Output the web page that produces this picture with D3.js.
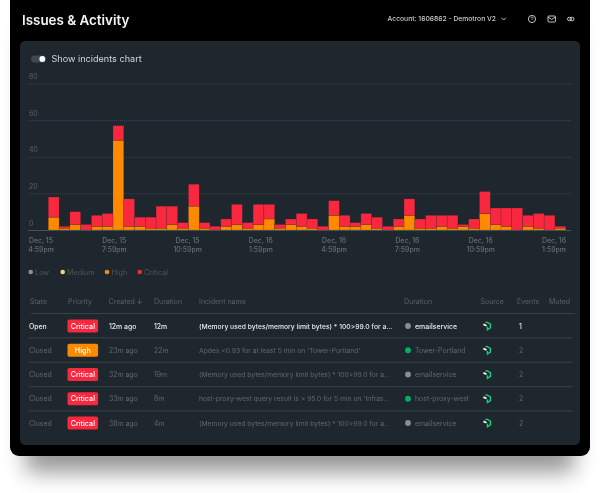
<!DOCTYPE html>
<html>
<head>
<meta charset="utf-8">
<script src="https://cdn.jsdelivr.net/npm/d3@7"></script>
<style>
  html, body { margin: 0; padding: 0; background: #fff; }
  svg { display: block; font-family: Inter, sans-serif; filter: blur(0.3px); }
</style>
</head>
<body>
<div id="chart"></div>
<script>
// chart data
const highCounts = [7, 1, 3, 0, 2, 2, 49, 2, 2, 1, 1, 3, 1, 13, 1, 0, 2, 3, 1, 3, 6, 1, 3, 2, 1, 0, 8, 2, 2, 3, 1, 0, 2, 8, 1, 1, 2, 1, 2, 1, 9, 3, 2, 0, 2, 1, 0, 1];
const criticalCounts = [11, 1, 7, 3, 6, 7, 8, 15, 5, 6, 12, 10, 3, 12, 3, 2, 4, 11, 3, 11, 8, 2, 3, 7, 5, 2, 8, 6, 2, 6, 6, 2, 4, 9, 5, 7, 6, 7, 1, 5, 12, 9, 10, 12, 6, 8, 8, 1];
const yTicks = [0, 20, 40, 60, 80];
const xDays = ['Dec, 15', 'Dec, 15', 'Dec, 15', 'Dec, 16', 'Dec, 16', 'Dec, 16', 'Dec, 16', 'Dec, 16'];
const xTimes = ['4:59pm', '7:59pm', '10:59pm', '1:59pm', '4:59pm', '7:59pm', '10:59pm', '1:59pm'];
const legendNames = ['Low', 'Medium', 'High', 'Critical'];
const legendColors = ['#8b9095', '#f7d774', '#ff8a00', '#f9283f'];

const states = ['Open', 'Closed', 'Closed', 'Closed', 'Closed'];
const priorities = ['Critical', 'High', 'Critical', 'Critical', 'Critical'];
const createdAgo = ['12m ago', '23m ago', '32m ago', '33m ago', '38m ago'];
const durations = ['12m', '22m', '19m', '8m', '4m'];
const incidentNames = [
  '(Memory used bytes/memory limit bytes) * 100>99.0 for a...',
  "Apdex <0.93 for at least 5 min on 'Tower-Portland'",
  '(Memory used bytes/memory limit bytes) * 100>99.0 for a...',
  "host-proxy-west query result is > 95.0 for 5 min on 'Infras...",
  '(Memory used bytes/memory limit bytes) * 100>99.0 for a...'
];
const services = ['emailservice', 'Tower-Portland', 'emailservice', 'host-proxy-west', 'emailservice'];
const serviceColors = ['#8b8f93', '#00b066', '#8b8f93', '#00b066', '#8b8f93'];
const eventCounts = [1, 2, 2, 2, 2];
const headers = ['State', 'Priority', 'Created ↓', 'Duration', 'Incident name', 'Duration', 'Source', 'Events', 'Muted'];
const headerX = [30, 68, 108.5, 154, 199, 404, 480.5, 517, 549];

const width = 600, height = 493;
const svg = d3.select('#chart').append('svg')
  .attr('width', width)
  .attr('height', height)
  .attr('viewBox', [0, 0, width, height]);

const defs = svg.append('defs');
defs.append('filter').attr('id', 'cardShadow')
  .attr('x', '-10%').attr('y', '-10%').attr('width', '120%').attr('height', '125%')
  .append('feGaussianBlur').attr('stdDeviation', 11);

// card + panel
svg.append('rect')
  .attr('x', 26).attr('y', 30).attr('width', 548).attr('height', 442)
  .attr('fill', '#000').attr('opacity', 0.42)
  .attr('filter', 'url(#cardShadow)');
svg.append('rect')
  .attr('x', 10).attr('y', -10).attr('width', 580).attr('height', 466)
  .attr('rx', 9).attr('fill', '#000');
svg.append('rect')
  .attr('x', 20).attr('y', 41).attr('width', 560).attr('height', 404)
  .attr('rx', 5).attr('fill', '#1e262e');

// page header
svg.append('text')
  .attr('x', 22).attr('y', 25)
  .attr('fill', '#f4f5f6').attr('font-size', 13.4).attr('font-weight', 600)
  .text('Issues & Activity');
svg.append('text')
  .attr('x', 387.5).attr('y', 21.4)
  .attr('fill', '#c9cccf').attr('font-size', 6.75).attr('font-weight', 500)
  .text('Account: 1606862 - Demotron V2');

const icons = svg.append('g').attr('fill', 'none').attr('stroke', '#d5d7d9').attr('stroke-width', 0.9);
icons.append('path').attr('d', 'M501.5 17.8l2.2 2.2 2.2-2.2');
icons.append('circle').attr('cx', 532).attr('cy', 19).attr('r', 3.6);
icons.append('path').attr('d', 'M530.9 18.1a1.1 1.1 0 1 1 1.5 1l-.4 .5v.4').attr('stroke-width', 0.7);
icons.append('rect').attr('x', 548).attr('y', 16).attr('width', 7.4).attr('height', 6).attr('rx', 0.7);
icons.append('path').attr('d', 'M548 17l3.7 2.4 3.7-2.4');
icons.append('rect').attr('x', 567.5).attr('y', 17.3).attr('width', 4).attr('height', 3.4).attr('rx', 1.7);
icons.append('rect').attr('x', 570).attr('y', 17.3).attr('width', 4).attr('height', 3.4).attr('rx', 1.7);

// toggle
svg.append('rect').attr('x', 31).attr('y', 55.5).attr('width', 15).attr('height', 7).attr('rx', 3.5).attr('fill', '#41484f');
svg.append('circle').attr('cx', 42.3).attr('cy', 59).attr('r', 2.9).attr('fill', '#fff');
svg.append('text')
  .attr('x', 51.5).attr('y', 62.3)
  .attr('fill', '#d3d6d8').attr('font-size', 9.1)
  .text('Show incidents chart');

// bars
const y = d3.scaleLinear().domain([0, 80]).range([230, 83.5]);
const x = d3.scaleBand().domain(d3.range(highCounts.length)).range([48.3, 565.7]);
const xLabels = d3.scalePoint().domain(d3.range(xDays.length)).range([41, 554]);

const yAxis = svg.append('g')
  .attr('transform', 'translate(28,0)')
  .call(d3.axisLeft(y).tickValues(yTicks).tickSize(-543));
yAxis.select('.domain').remove();
yAxis.selectAll('.tick line')
  .attr('stroke', d => d === 0 ? '#4a5259' : '#4b535a')
  .attr('stroke-width', d => d === 0 ? 1 : 0.7)
  .attr('stroke-dasharray', d => d === 0 ? null : '1 1');
yAxis.selectAll('.tick text')
  .attr('x', 1).attr('y', -4.9).attr('dy', 0)
  .attr('text-anchor', 'start')
  .attr('fill', '#5b6369').attr('font-size', 7)
  .attr('font-family', 'Inter, sans-serif');

const stackData = d3.stack().keys(['high', 'critical'])(
  highCounts.map((h, i) => ({ i, high: h, critical: criticalCounts[i] }))
);
const barColor = { high: '#ff8a00', critical: '#f9283f' };

svg.append('g').selectAll('g')
  .data(stackData)
  .join('g')
  .attr('fill', d => barColor[d.key])
  .selectAll('rect')
  .data(d => d)
  .join('rect')
  .attr('x', d => x(d.data.i))
  .attr('y', d => y(d[1]))
  .attr('width', x.bandwidth())
  .attr('height', d => y(d[0]) - y(d[1]))
  .attr('stroke', '#1e262e')
  .attr('stroke-opacity', 0.35)
  .attr('stroke-width', 0.5);

const xLabel = svg.append('g')
  .attr('fill', '#666e74')
  .attr('font-size', 6.9)
  .attr('font-weight', 500)
  .attr('text-anchor', 'middle')
  .selectAll('text')
  .data(xDays)
  .join('text')
  .attr('transform', (d, i) => `translate(${xLabels(i)},243)`);
xLabel.append('tspan').attr('x', 0).attr('y', 0).text(d => d);
xLabel.append('tspan').attr('x', 0).attr('y', 9.2).text((d, i) => xTimes[i]);

// legend
const legendX = d3.scaleOrdinal().domain(legendNames).range([30.7, 62.7, 107, 139.7]);
const legend = svg.append('g').selectAll('g')
  .data(legendNames)
  .join('g')
  .attr('transform', d => `translate(${legendX(d)},272)`);
legend.append('circle').attr('r', 2.3).attr('fill', (d, i) => legendColors[i]);
legend.append('text')
  .attr('x', 4.4).attr('y', 2.6)
  .attr('fill', '#4f575d').attr('font-size', 7.2)
  .text(d => d);

// table
svg.append('g').selectAll('text')
  .data(headers)
  .join('text')
  .attr('x', (d, i) => headerX[i])
  .attr('y', 304.3)
  .attr('fill', '#5a6268')
  .attr('font-size', 7)
  .text(d => d);

const rowY = d3.scaleLinear().domain([0, 4]).range([326, 423]);
const lineY = d3.scaleLinear().domain([0, 4]).range([313.5, 411]);

svg.append('g').selectAll('line')
  .data(d3.range(5))
  .join('line')
  .attr('x1', d => d === 0 ? 31 : 29)
  .attr('x2', d => d === 0 ? 575 : 573)
  .attr('y1', d => lineY(d))
  .attr('y2', d => lineY(d))
  .attr('stroke', '#3a4249');

const rows = svg.append('g').selectAll('g')
  .data(states)
  .join('g')
  .attr('transform', (d, i) => `translate(0,${rowY(i)})`);
const rowColor = (d, i) => i === 0 ? '#e8eaeb' : '#62696f';
const rowText = (xPos, list, size) => rows.append('text')
  .attr('x', xPos)
  .attr('y', 2.5)
  .attr('font-size', size)
  .attr('fill', rowColor)
  .attr('font-weight', (d, i) => i === 0 ? 500 : 400)
  .text((d, i) => list[i]);

rowText(29, states, 6.9);
rows.append('rect')
  .attr('x', 67.5).attr('y', -6.6).attr('width', 30.6).attr('height', 13.2).attr('rx', 1.8)
  .attr('fill', (d, i) => priorities[i] === 'High' ? '#ff8a00' : '#f9283f');
rows.append('text')
  .attr('x', 82.8).attr('y', 2.6)
  .attr('text-anchor', 'middle')
  .attr('fill', '#fff').attr('font-size', 7.2).attr('font-weight', 500)
  .text((d, i) => priorities[i]);
rowText(109, createdAgo, 6.9);
rowText(154, durations, 6.9);
rowText(199, incidentNames, 6.75);
rows.append('circle').attr('cx', 408).attr('cy', 0).attr('r', 2.9).attr('fill', (d, i) => serviceColors[i]);
rowText(415, services, 6.95);
rowText(519, eventCounts, 6.9);

// source glyph
const glyph = rows.append('g').attr('transform', 'translate(487,0)').attr('fill', 'none').attr('stroke-width', 1.4);
glyph.append('path').attr('d', 'M-1.6 -3.3L0 -3.8L3.4 -1.9L3.4 1.9L0.4 3.8L0.4 0.8').attr('stroke', '#14d17f');
glyph.append('path').attr('d', 'M-3.6 -1.6L-0.4 -0.2').attr('stroke', '#f4f5f6').attr('stroke-width', 1.8);
</script>
</body>
</html>
